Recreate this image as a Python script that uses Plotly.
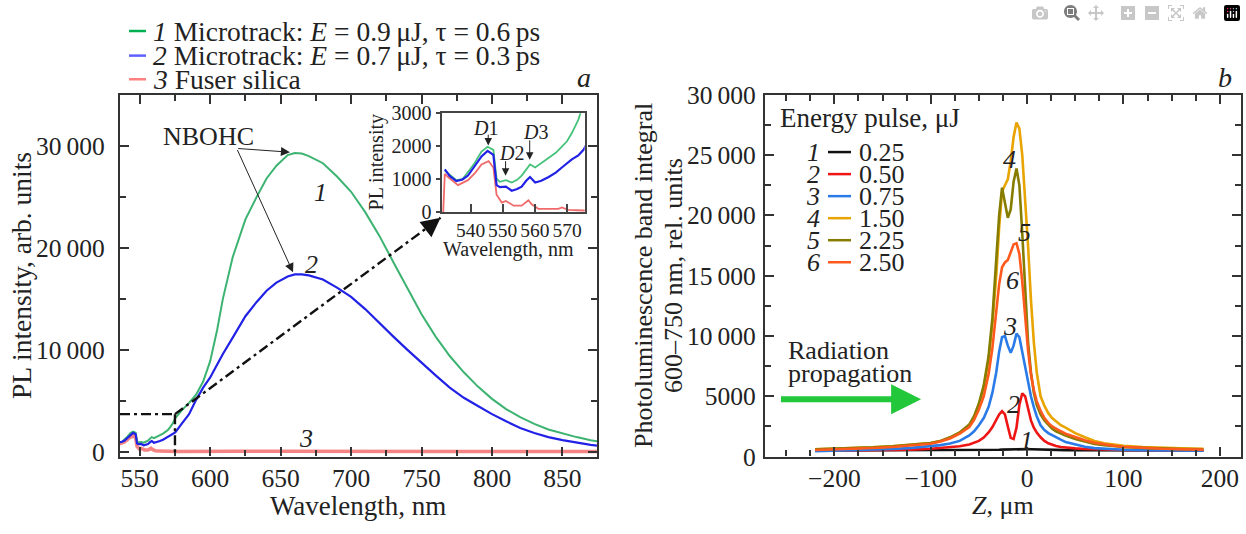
import plotly.graph_objects as go

W, H = 1246, 534
FONT = "Liberation Serif, Times New Roman, Times, serif"
INK = "#222222"
AXC = "#333333"

# ---------------- panel a : PL spectra ----------------
wl = [532, 533.5, 535.6, 537.5, 539.2, 541, 543.4, 545.3, 547.1, 548.1, 549.1, 551.0, 552.8, 554.5,
      555.9, 557.3, 558.5, 560.1, 562, 564.3, 566.5, 568.4, 570, 571.5, 573.5, 575.2,
      580, 585, 590, 595, 600, 605, 609, 616, 625, 633, 640, 647, 655, 660, 665, 670, 680, 690,
      700, 710, 720, 730, 740, 750, 760, 770, 780, 790, 800, 810, 820, 830, 840, 850, 860, 870, 876]
pl_1 = [1260, 1150, 970, 1000, 1210, 1450, 1840, 1985, 1890, 1020, 920, 970, 900, 980,
        1110, 1300, 1450, 1355, 1480, 1650, 1800, 1985, 2150, 2400, 2800, 3300,
        4100, 4800, 5600, 6900, 8900, 12000, 15000, 19100, 22800, 25000, 26800, 28050, 29100, 29300,
        29250, 29000, 28300, 27000, 25500, 23500, 21200, 18600, 16000, 13500, 11300, 9400, 7800,
        6400, 5200, 4200, 3400, 2750, 2200, 1800, 1450, 1150, 1000]
pl_2 = [1300, 1100, 940, 990, 1110, 1350, 1690, 1860, 1740, 820, 760, 775, 650, 700,
        775, 950, 1065, 900, 950, 1065, 1200, 1355, 1480, 1600, 1720, 1900,
        2800, 3700, 5100, 6300, 7300, 8600, 9600, 11200, 13300, 14700, 15800, 16600, 17200, 17400,
        17400, 17300, 16900, 16100, 15200, 14000, 12700, 11300, 10000, 8700, 7500, 6300, 5300,
        4500, 3700, 3000, 2350, 1850, 1450, 1150, 880, 680, 580]
wl_3 = [531.5, 532, 533, 536.1, 539.2, 541.5, 543.4, 545.6, 547.1, 548.1, 549.7, 551, 553.4, 555.9,
        558, 559, 561.1, 564, 567.3, 568.4, 570.4, 575.2, 580, 590, 600, 610, 620, 640, 660, 680,
        700, 720, 740, 760, 780, 800, 820, 840, 860, 876]
pl_3 = [0, 1160, 1065, 820, 970, 1200, 1450, 1550, 1355, 530, 290, 340, 195, 195,
        360, 240, 100, 90, 100, 145, 70, 50, 60, 80, 60, 90, 70, 60, 70, 60,
        50, 60, 50, 60, 50, 50, 40, 50, 40, 40]
legend_a = ["<i>1</i> Microtrack: <i>E</i> = 0.9\u2009\u03bcJ, \u03c4 = 0.6\u2009ps",
            "<i>2</i> Microtrack: <i>E</i> = 0.7\u2009\u03bcJ, \u03c4 = 0.3\u2009ps",
            "<i>3</i> Fuser silica"]
xticks_a = [550, 600, 650, 700, 750, 800, 850]
yticks_a = [0, 10000, 20000, 30000]
ytext_a = ["0", "10\u2009000", "20\u2009000", "30\u2009000"]
xticks_in = [540, 550, 560, 570]
yticks_in = [0, 1000, 2000, 3000]

# ---------------- panel b : PL band integral vs Z ----------------
z = [-220, -200, -180, -160, -140, -120, -100, -90, -80, -70, -60, -55, -50, -45, -40, -36, -32, -29,
     -26, -23, -20, -17, -14, -11, -8, -5, -2, 1, 4, 7, 10, 14, 18, 22, 26, 30, 35, 40, 50, 60, 70,
     80, 90, 100, 120, 140, 160, 183]
e_025 = [510, 510, 515, 515, 520, 520, 525, 525, 530, 530, 535, 540, 540, 545, 550, 555, 560, 570,
         580, 590, 600, 610, 620, 625, 630, 630, 625, 620, 610, 600, 590, 570, 560, 550, 545, 540,
         540, 535, 530, 530, 525, 525, 520, 520, 515, 515, 510, 510]
e_050 = [480, 490, 500, 515, 540, 580, 650, 700, 770, 860, 1000, 1120, 1300, 1580, 2000, 2450, 3050,
         3500, 3760, 3500, 2500, 1550, 1450, 2400, 4300, 5250, 5000, 4000, 3000, 2400, 2000, 1600,
         1300, 1100, 960, 880, 800, 750, 680, 630, 600, 580, 560, 550, 530, 520, 510, 500]
e_075 = [450, 480, 520, 570, 630, 720, 850, 950, 1080, 1300, 1750, 2100, 2600, 3200, 4100, 5300, 7000,
         8700, 9900, 10000, 9200, 8600, 9200, 10200, 9900, 8700, 7300, 6100, 5000, 4100, 3350, 2600,
         2200, 1950, 1800, 1600, 1400, 1200, 980, 820, 700, 640, 600, 570, 540, 520, 500, 480]
e_150 = [600, 640, 690, 760, 850, 960, 1120, 1280, 1550, 1950, 2600, 3300, 4300, 5700, 8000, 11000,
         15000, 19000, 22000, 22500, 23000, 24500, 26500, 27700, 27200, 25000, 21500, 17500, 13000,
         9500, 7000, 5000, 4200, 3600, 3200, 2900, 2600, 2400, 1950, 1600, 1300, 1100, 1000, 900,
         800, 720, 680, 650]
e_225 = [600, 640, 690, 760, 850, 960, 1120, 1300, 1600, 2000, 2650, 3350, 4400, 5900, 8300, 11500,
         16000, 20000, 22300, 21000, 19800, 20500, 22800, 23900, 22500, 18500, 13500, 9500, 7000,
         5300, 4300, 3500, 3000, 2600, 2300, 2100, 1900, 1750, 1450, 1250, 1050, 950, 850, 800,
         720, 660, 620, 600]
e_250 = [550, 590, 640, 710, 800, 910, 1060, 1250, 1500, 1900, 2450, 3050, 3900, 5000, 6800, 9000,
         12000, 14300, 15700, 16100, 16300, 17000, 17600, 17700, 16800, 14500, 11500, 8800, 6800,
         5500, 4600, 3800, 3200, 2800, 2500, 2300, 2100, 1900, 1600, 1350, 1150, 1000, 900, 820,
         720, 650, 610, 580]
energy_labels = ["0.25", "0.50", "0.75", "1.50", "2.25", "2.50"]
xticks_b = [-200, -100, 0, 100, 200]
yticks_b = [0, 5000, 10000, 15000, 20000, 25000, 30000]
ytext_b = ["0", "5000", "10\u2009000", "15\u2009000", "20\u2009000", "25\u2009000", "30\u2009000"]

# ---------------- styling ----------------
GREEN, BLUE, RED = "#3cb371", "#2222e6", "rgba(240,90,90,0.75)"
B_COLORS = ["#111111", "#ee1515", "#2a7be8", "#e8a400", "#857c00", "#ff5a1e"]
XA = (536, 874.5)
YA = (-460, 35000)
BOX_X, BOX_Y = 575, 3700
TIP = (763.5, 22950)
FS = 26
FSA = 27.5
TFS = 25.5


def px(x):
    return x / W


def py(y):
    return 1 - y / H


fig = go.Figure()
fig.add_trace(go.Scatter(x=wl_3, y=pl_3, mode="lines", line=dict(color=RED, width=3.5), xaxis="x", yaxis="y"))
fig.add_trace(go.Scatter(x=wl, y=pl_1, mode="lines", line=dict(color=GREEN, width=2), xaxis="x", yaxis="y"))
fig.add_trace(go.Scatter(x=wl, y=pl_2, mode="lines", line=dict(color=BLUE, width=2.2), xaxis="x", yaxis="y"))
# inset
fig.add_trace(go.Scatter(x=wl_3, y=pl_3, mode="lines", line=dict(color="#f06a6a", width=1.8), xaxis="x3", yaxis="y3"))
fig.add_trace(go.Scatter(x=wl, y=pl_1, mode="lines", line=dict(color="#46c27a", width=1.8), xaxis="x3", yaxis="y3"))
fig.add_trace(go.Scatter(x=wl, y=pl_2, mode="lines", line=dict(color=BLUE, width=2.2), xaxis="x3", yaxis="y3"))
# panel b
for ser, col in zip([e_025, e_050, e_075, e_150, e_225, e_250], B_COLORS):
    fig.add_trace(go.Scatter(x=z, y=ser, mode="lines", line=dict(color=col, width=2.6), xaxis="x2", yaxis="y2"))

tickfont = dict(family=FONT, size=TFS, color=INK)


def axis(**kw):
    d = dict(showline=True, linecolor=AXC, linewidth=2.2, mirror="ticks", ticks="inside", ticklen=9,
             tickwidth=1.8, tickcolor=AXC, showgrid=False, zeroline=False, tickfont=tickfont,
             minor=dict(ticks="inside", ticklen=6, tickwidth=1.5, tickcolor=AXC, showgrid=False))
    d.update(kw)
    return d


Y_DOM = [py(468), py(85.5)]
fig.update_layout(
    width=W, height=H, margin=dict(l=0, r=0, t=0, b=0), showlegend=False,
    plot_bgcolor="white", paper_bgcolor="white",
    xaxis=axis(domain=[px(120), px(597)], range=list(XA), tickmode="array", tickvals=xticks_a,
               minor_tickmode="linear", minor_tick0=525, minor_dtick=25, ticklabelstandoff=-2),
    yaxis=axis(domain=Y_DOM, range=list(YA), tickmode="array", tickvals=yticks_a, ticktext=ytext_a,
               minor_tickmode="linear", minor_tick0=0, minor_dtick=5000, ticklabelstandoff=8),
    xaxis2=axis(domain=[px(765), px(1241)], range=[-272, 222], tickmode="array", tickvals=xticks_b,
                minor_tickmode="linear", minor_tick0=0, minor_dtick=25, anchor="y2", ticklabelstandoff=-2),
    yaxis2=axis(domain=Y_DOM, range=[0, 30000], tickmode="array", tickvals=yticks_b, ticktext=ytext_b,
                minor_tickmode="linear", minor_tick0=0, minor_dtick=2500, anchor="x2", ticklabelstandoff=2),
    xaxis3=dict(domain=[px(441.6), px(584.7)], range=[531, 575.5], anchor="y3", showline=True,
                linecolor="#444", linewidth=2, mirror=True, ticks="inside", ticklen=8, tickwidth=1.5,
                tickcolor="#444", tickmode="array", tickvals=xticks_in, showgrid=False, zeroline=False,
                tickfont=dict(family=FONT, size=19.5, color=INK), ticklabelstandoff=-1),
    yaxis3=dict(domain=[py(209.5), py(105)], range=[0, 3000], anchor="x3", showline=True,
                linecolor="#444", linewidth=2, mirror=True, ticks="outside", ticklen=4, tickwidth=1.5,
                tickcolor="#444", tickmode="array", tickvals=yticks_in, showgrid=False, zeroline=False,
                tickfont=dict(family=FONT, size=20, color=INK)),
)

ann = []
shapes = []


def T(x, y, s, size=FS, xref="paper", yref="paper", xanchor="center", yanchor="middle", angle=0):
    ann.append(dict(x=x, y=y, text=s, xref=xref, yref=yref, xanchor=xanchor, yanchor=yanchor,
                    showarrow=False, textangle=angle, font=dict(family=FONT, size=size, color=INK)))


# axis titles
T(px(358), py(520), "Wavelength, nm", size=27)
T(px(22), py(277), "PL intensity, arb. units", size=FSA, angle=-90)
T(px(1003), py(520), "<i>Z</i>, \u03bcm")
T(px(644), py(277), "Photoluminescence band integral", angle=-90)
T(px(674), py(277), "600\u2013750 nm, rel. units", angle=-90)
T(px(376), py(157), "PL intensity", size=20, angle=-90)
T(px(508), py(249), "Wavelength, nm", size=20)
T(px(584), py(67), "<i>a</i>", size=28)
T(px(1225), py(67), "<i>b</i>", size=28)

# legend a
for i, (s, col, yy) in enumerate(zip(legend_a, ["#00b050", "#6060ff", "#ff8080"], [18, 44, 69])):
    shapes.append(dict(type="line", xref="paper", yref="paper", x0=px(129), x1=px(146), y0=py(yy), y1=py(yy),
                       line=dict(color=col, width=2.5)))
    T(px(151), py(yy), s, size=FSA, xanchor="left")

# legend b
T(px(778), py(110), "Energy pulse, \u03bcJ", size=27, xanchor="left")
for i, (lab, col) in enumerate(zip(energy_labels, B_COLORS)):
    yy = 146 + i * 23.3
    T(px(822), py(yy), "<i>%d</i>" % (i + 1), xanchor="right")
    shapes.append(dict(type="line", xref="paper", yref="paper", x0=px(828), x1=px(851), y0=py(yy), y1=py(yy),
                       line=dict(color=col, width=2.5)))
    T(px(857), py(yy), lab, xanchor="left")

# curve labels panel a
T(598.5, 30930, "NBOHC", xref="x", yref="y")
T(678, 25440, "<i>1</i>", xref="x", yref="y")
T(672, 18330, "<i>2</i>", xref="x", yref="y")
T(668, 1340, "<i>3</i>", xref="x", yref="y")
for tx, ty in [(656.6, 29380), (658.8, 17600)]:
    ann.append(dict(x=tx, y=ty, ax=618.8, ay=29750, xref="x", yref="y", axref="x", ayref="y", text="",
                    showarrow=True, arrowhead=2, arrowsize=1.8, arrowwidth=1, arrowcolor=INK))

# zoom box and arrow
dd = dict(color="#111111", width=2.4, dash="10px,4px,3px,4px")
shapes.append(dict(type="line", xref="x", yref="y", x0=XA[0], x1=BOX_X, y0=BOX_Y, y1=BOX_Y, line=dd))
shapes.append(dict(type="line", xref="x", yref="y", x0=BOX_X, x1=BOX_X, y0=BOX_Y, y1=YA[0], line=dd))
shapes.append(dict(type="line", xref="x", yref="y", x0=BOX_X, x1=TIP[0], y0=BOX_Y, y1=TIP[1], line=dd))
ann.append(dict(x=TIP[0], y=TIP[1], ax=-14, ay=11, xref="x", yref="y", text="", showarrow=True,
                arrowhead=2, arrowsize=1.6, arrowwidth=2.4, arrowcolor="#111111"))

# inset defect labels
for (lx, ly, s, ax_, a0, a1) in [(544.8, 2560, "<i>D</i>1", 545.5, 2397, 2023),
                                  (552.7, 1794, "<i>D</i>2", 550.9, 1593, 1105),
                                  (560.2, 2425, "<i>D</i>3", 558.4, 2224, 1593)]:
    T(lx, ly, s, size=20, xref="x3", yref="y3")
    ann.append(dict(x=ax_, y=a1, ax=ax_, ay=a0, xref="x3", yref="y3", axref="x3", ayref="y3", text="",
                    showarrow=True, arrowhead=2, arrowsize=1.5, arrowwidth=1, arrowcolor=INK))

# panel b labels
for (lx, ly, s) in [(-1, 1300, "1"), (-14, 4300, "2"), (-18, 10800, "3"), (-18, 24600, "4"),
                    (-3, 18600, "5"), (-15, 14600, "6")]:
    T(lx, ly, "<i>%s</i>" % s, xref="x2", yref="y2")
T(-250, 8800, "Radiation", xref="x2", yref="y2", xanchor="left")
T(-250, 6880, "propagation", xref="x2", yref="y2", xanchor="left")
ann.append(dict(x=-110, y=4750, ax=-257, ay=4750, xref="x2", yref="y2", axref="x2", ayref="y2", text="",
                showarrow=True, arrowhead=2, arrowsize=1.0, arrowwidth=6, arrowcolor="#22c83a"))

fig.update_layout(annotations=ann, shapes=shapes)
fig.write_html("out.html", post_script="document.body.style.margin='0';")
